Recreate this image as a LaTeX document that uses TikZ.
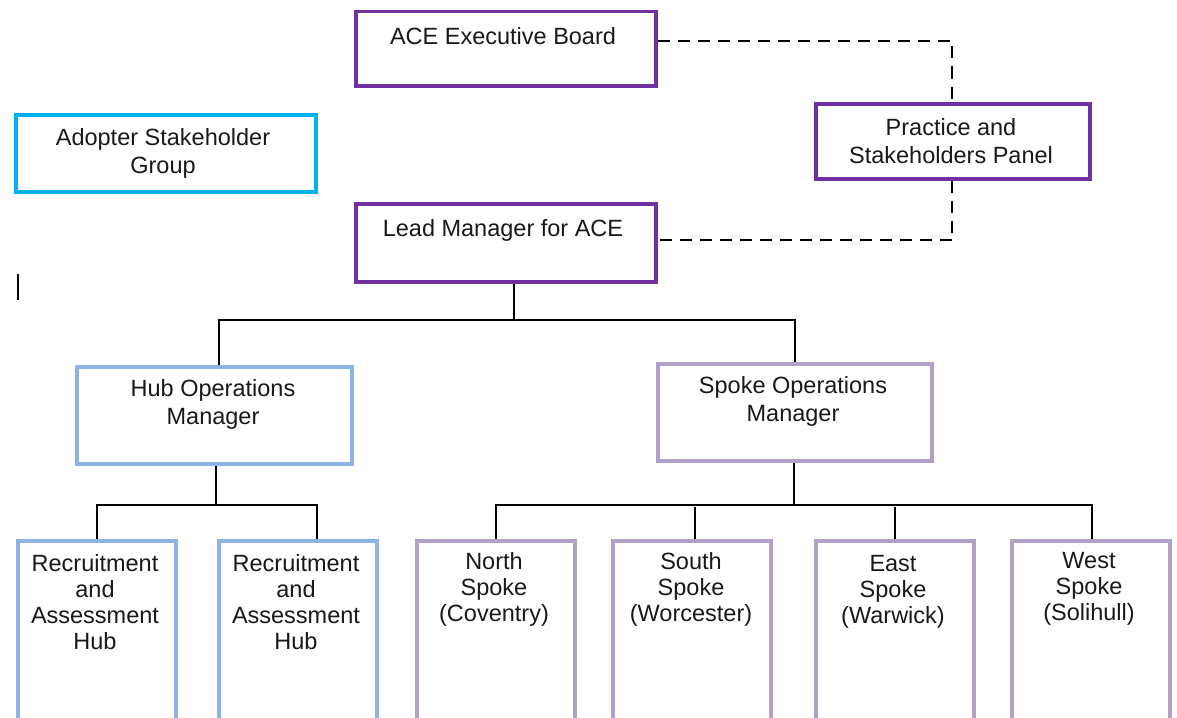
\documentclass[tikz,border=0pt]{standalone}
\usepackage{fontspec}
\setmainfont{Liberation Sans}
\definecolor{cpurple}{RGB}{112,48,160}
\definecolor{ccyan}{RGB}{0,176,240}
\definecolor{chub}{RGB}{141,180,226}
\definecolor{cspoke}{RGB}{178,161,199}
\tikzset{
  box/.style={draw=#1, line width=3.5pt, rectangle, inner sep=0pt, anchor=north west, fill=white},
  txt/.style={align=center, inner sep=0pt, font=\fontsize{23.5}{26}\selectfont, text=black!90},
  txtwide/.style={txt, font=\fontsize{23.5}{28}\selectfont},
  conn/.style={line width=2.3pt, black},
  dashconn/.style={line width=2.6pt, black, dash pattern=on 12pt off 8pt},
}
\begin{document}
\begin{tikzpicture}[x=1pt,y=-1pt]
\useasboundingbox (0,0) rectangle (1177,717);
\clip (0,0) rectangle (1177,717);
\fill[white] (0,0) rectangle (1177,717);
% boxes
\node[box=cpurple, minimum width=300pt, minimum height=74pt] (ace) at (354,10) {};
\node[box=ccyan, minimum width=300pt, minimum height=77pt] (adopter) at (14,113) {};
\node[box=cpurple, minimum width=274pt, minimum height=75pt] (panel) at (814,102) {};
\node[box=cpurple, minimum width=300pt, minimum height=78pt] (lead) at (354,202) {};
\node[box=chub, minimum width=275pt, minimum height=97pt] (hub) at (75,365) {};
\node[box=cspoke, minimum width=274pt, minimum height=97pt] (spoke) at (656,362) {};
\node[box=chub, minimum width=158pt, minimum height=200pt] (rec1) at (16,539) {};
\node[box=chub, minimum width=158pt, minimum height=200pt] (rec2) at (217,539) {};
\node[box=cspoke, minimum width=158pt, minimum height=200pt] (north) at (415,539) {};
\node[box=cspoke, minimum width=158pt, minimum height=200pt] (south) at (611,539) {};
\node[box=cspoke, minimum width=158pt, minimum height=200pt] (east) at (814,539) {};
\node[box=cspoke, minimum width=158pt, minimum height=200pt] (west) at (1010,539) {};
% texts
\node[txt] (tace) at (503,36) {ACE Executive Board};
\node[txtwide] (tadopter) at (163,153) {Adopter Stakeholder\\Group};
\node[txtwide] (tpanel) at (951,141) {Practice and\\Stakeholders Panel};
\node[txt] (tlead) at (503,230) {Lead Manager for ACE};
\node[txtwide] (thub) at (213,404) {Hub Operations\\Manager};
\node[txtwide] (tspoke) at (793,401) {Spoke Operations\\Manager};
\node[txt] (trec1) at (95,602) {Recruitment\\and\\Assessment\\Hub};
\node[txt] (trec2) at (296,602) {Recruitment\\and\\Assessment\\Hub};
\node[txt] (tnorth) at (494,589) {North\\Spoke\\(Coventry)};
\node[txt] (tsouth) at (691,589) {South\\Spoke\\(Worcester)};
\node[txt] (teast) at (893,592) {East\\Spoke\\(Warwick)};
\node[txt] (twest) at (1089,589) {West\\Spoke\\(Solihull)};
% stray cursor mark
\draw[line width=2.5pt] (18,274) -- (18,300);
% dashed links
\coordinate (d1) at (952,41);
\coordinate (d2) at (952,240);
\draw[dashconn] (ace.east |- d1) -- (d1) -- (panel.north -| d1);
\draw[dashconn] (panel.south -| d2) -- (d2) -- (lead.east |- d2);
% tree: lead
\coordinate (lj) at (514,320);
\draw[conn] (lead.south -| lj) -- (lj);
\draw[conn] ([xshift=5pt]hub.north) |- (lj) -| (spoke.north);
% tree: hub
\coordinate (hj) at (216,505);
\draw[conn] (hub.south -| hj) -- (hj);
\draw[conn] (rec1.north) |- (hj) -| ([xshift=19pt]rec2.north);
% tree: spoke
\coordinate (sj) at (794,505);
\draw[conn] (spoke.south -| sj) -- (sj);
\draw[conn] (north.north) |- (sj) -| ([xshift=1pt]west.north);
\draw[conn] ([xshift=3pt]south.north) -- ++(0,-32);
\draw[conn] (east.north) -- ++(0,-32);
\end{tikzpicture}
\end{document}
